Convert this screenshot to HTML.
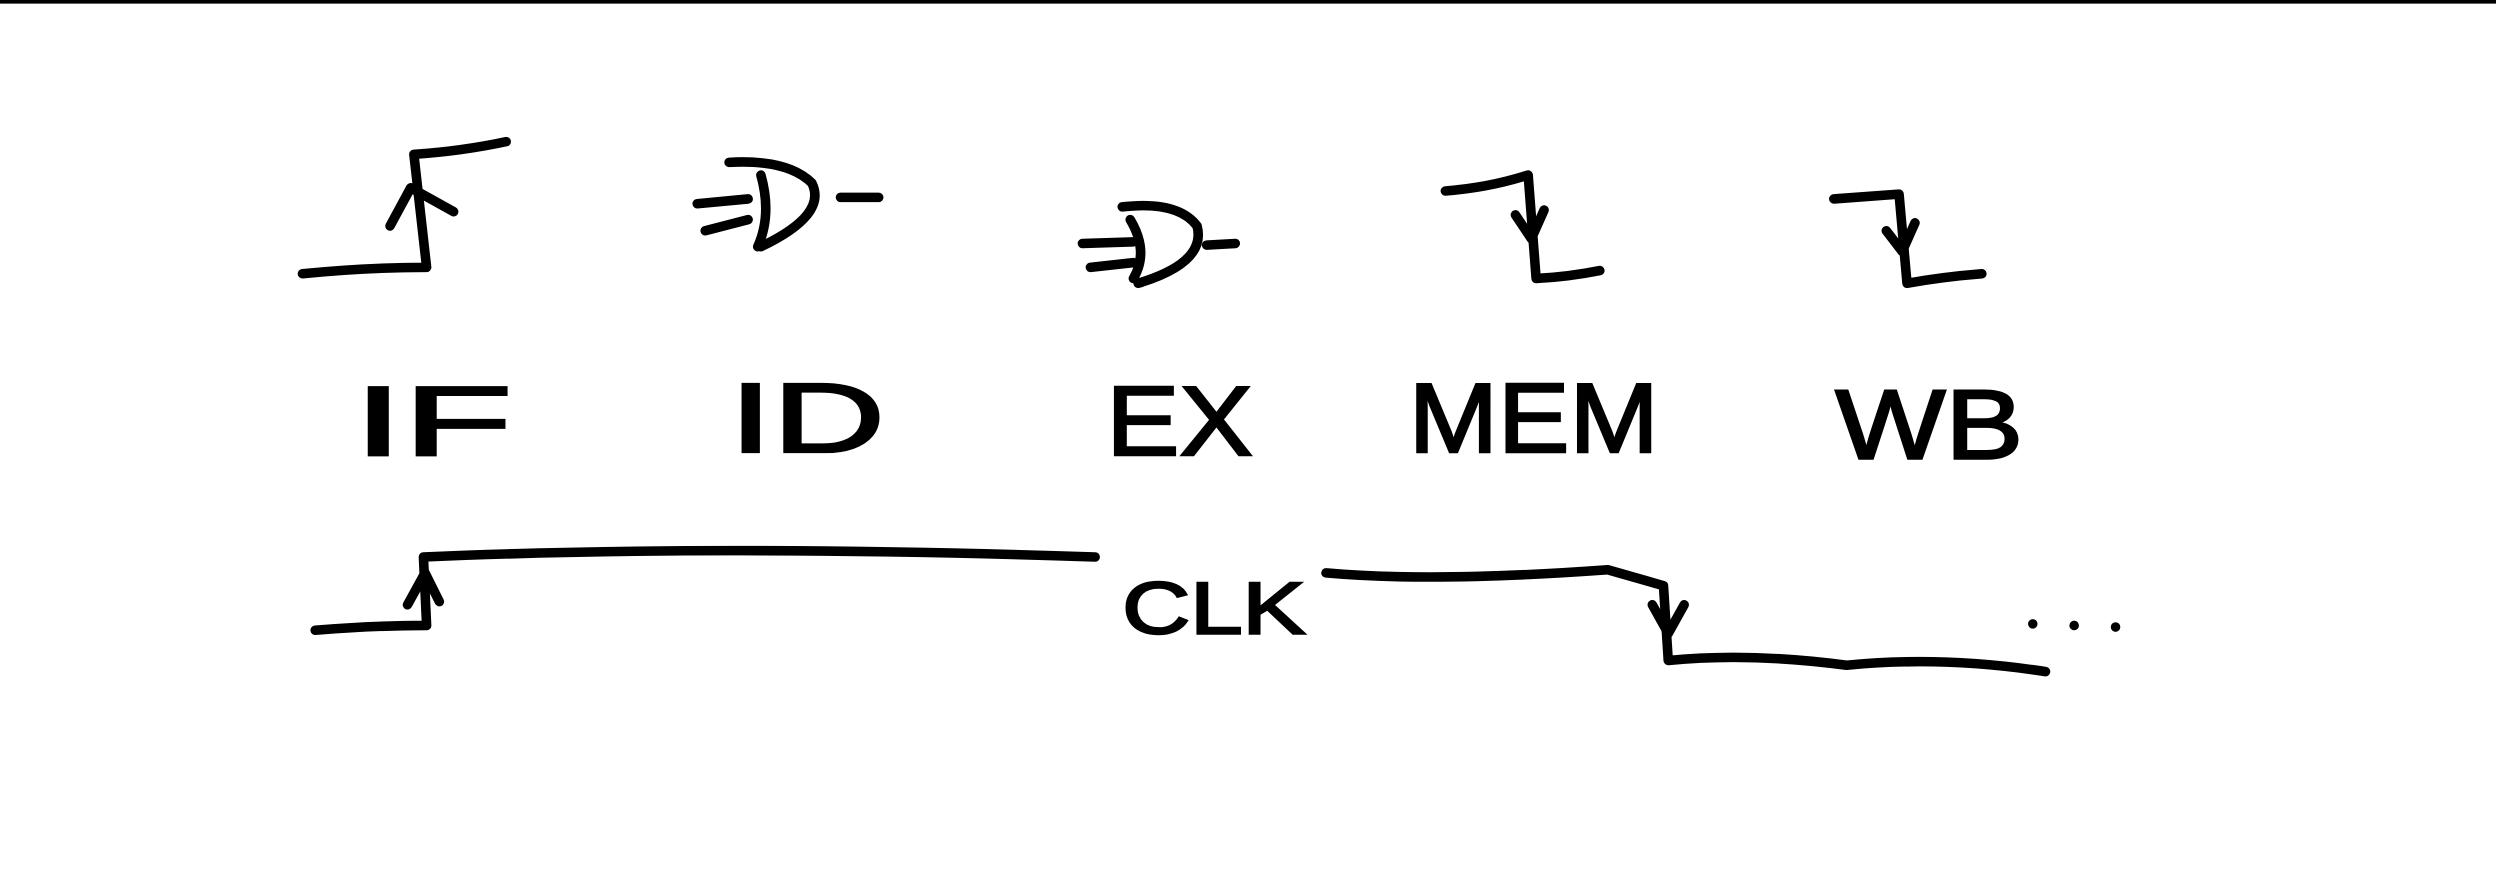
<!DOCTYPE html>
<html><head><meta charset="utf-8"><style>
html,body{margin:0;padding:0;background:#fff;width:2496px;height:896px;overflow:hidden}
svg{display:block}
text{font-family:"Liberation Sans",sans-serif;fill:#000}
</style></head><body>
<svg width="2496" height="896" viewBox="0 0 1568 563" preserveAspectRatio="none">
<g fill="none" stroke="#000" stroke-width="6" stroke-linecap="round" stroke-linejoin="round">
<line x1="0" y1="1" x2="1568" y2="1" stroke-width="2.5"/>
<!-- IF rising edge -->
<path d="M190 172 Q230 168 268 168 L260 97 Q290 95 318 89"/>
<path d="M245 142 L258 118 L285 133"/>
<!-- ID gate -->
<path d="M458 102 Q495 100 510 115 Q520 135 478 155"/>
<path d="M478 110 Q485 135 476 155"/>
<path d="M438 128 L470 125 M443 145 L470 138"/>
<path d="M528 124 L552 124"/>
<!-- EX gate -->
<path d="M705 130 Q740 126 752 142 Q758 165 715 178"/>
<path d="M710 138 Q722 158 712 175"/>
<path d="M680 153 L712 152 M685 168 L712 165"/>
<path d="M758 154 L776 153"/>
<!-- MEM falling -->
<path d="M908 120 Q935 118 960 110 L965 175 Q985 174 1005 170"/>
<path d="M952 135 L962 150 L970 132"/>
<!-- WB falling -->
<path d="M1152 125 L1193 122 L1198 178 Q1220 174 1245 172"/>
<path d="M1185 145 L1195 158 L1203 140"/>
<!-- CLK -->
<path d="M198 396 Q235 393 268 393 L266 350 Q450 342 688 350"/>
<path d="M256 380 L267 360 L276 378"/>
<path d="M833 360 Q900 366 1010 358 L1045 368 L1048 415 Q1100 410 1160 418 Q1220 412 1285 422"/>
<path d="M1038 380 L1048 398 L1058 380"/>
</g>
<g fill="#000">
<circle cx="1277" cy="392" r="3"/><circle cx="1303" cy="393" r="3"/><circle cx="1329" cy="394" r="3"/>
</g>
<g font-size="62" stroke="#000" stroke-width="1.5">
<text x="222" y="286" textLength="100" lengthAdjust="spacingAndGlyphs">IF</text>
<text x="458" y="284" textLength="98" lengthAdjust="spacingAndGlyphs">ID</text>
<text x="695" y="286" textLength="92" lengthAdjust="spacingAndGlyphs">EX</text>
<text x="885" y="284" textLength="157" lengthAdjust="spacingAndGlyphs">MEM</text>
<text x="1153" y="288" textLength="118" lengthAdjust="spacingAndGlyphs">WB</text>
<text x="705" y="398" font-size="46" textLength="115" lengthAdjust="spacingAndGlyphs">CLK</text>
</g>
</svg>
</body></html>
